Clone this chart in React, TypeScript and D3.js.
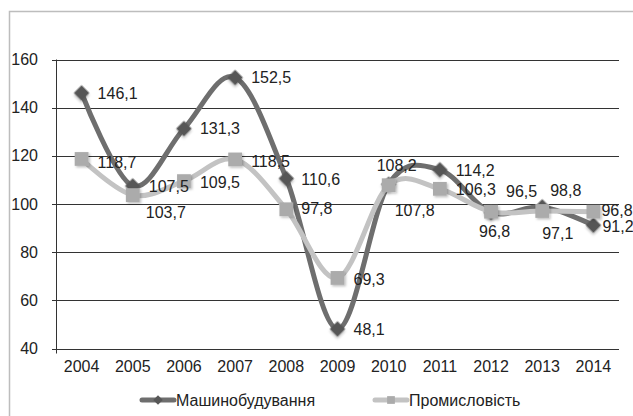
import React, { useEffect, useRef } from "react";
import * as d3 from "d3";

const years = ["2004", "2005", "2006", "2007", "2008", "2009", "2010", "2011", "2012", "2013", "2014"];
const mashValues = [146.1, 107.5, 131.3, 152.5, 110.6, 48.1, 108.2, 114.2, 96.5, 98.8, 91.2];
const promValues = [118.7, 103.7, 109.5, 118.5, 97.8, 69.3, 107.8, 106.3, 96.8, 97.1, 96.8];
const yTicks = [40, 60, 80, 100, 120, 140, 160];
const seriesNames = ["Машинобудування", "Промисловість"];

// label placement per point, relative to the marker
const mashLabelPos = [[16, 0], [16, 0], [16, 0], [16, 0], [15, 1], [16, 0], [-12, -19], [16, 1], [15, -21], [8, -16], [9, 1]];
const promLabelPos = [[16, 3], [13, 17], [16, 1], [16, 2], [15, -1], [16, 1], [6, 25], [16, 1], [-12, 20], [0, 22], [8, -1]];

const App = () => {
  const ref = useRef<SVGSVGElement | null>(null);

  useEffect(() => {
    const width = 633;
    const height = 416;
    const margin = { top: 59.5, right: 14, bottom: 67.5, left: 56 };
    const font = "'Liberation Sans', Arial, sans-serif";

    const svg = d3.select(ref.current);
    svg.selectAll("*").remove();

    const defs = svg.append("defs");
    const f = defs.append("filter").attr("id", "sh").attr("x", "-50%").attr("y", "-50%").attr("width", "200%").attr("height", "200%");
    f.append("feDropShadow").attr("dx", 1.5).attr("dy", 1.5).attr("stdDeviation", 1).attr("flood-color", "#000").attr("flood-opacity", 0.25);

    // outer frame
    svg.append("rect")
      .attr("x", 9.5).attr("y", 11.5)
      .attr("width", 640).attr("height", 420)
      .attr("fill", "#fff").attr("stroke", "#bdbdbd").attr("stroke-width", 1.5);

    const x = d3.scalePoint<string>()
      .domain(years)
      .range([margin.left, width - margin.right])
      .padding(0.5);

    const y = d3.scaleLinear()
      .domain([40, 160])
      .range([height - margin.bottom, margin.top]);

    // gridlines
    svg.append("g")
      .selectAll("line")
      .data(yTicks)
      .join("line")
      .attr("x1", margin.left - 4)
      .attr("x2", width - margin.right)
      .attr("y1", d => Math.round(y(d)) + 0.5)
      .attr("y2", d => Math.round(y(d)) + 0.5)
      .attr("stroke", "#333")
      .attr("stroke-width", 1);

    // y axis line + bottom tick
    svg.append("line")
      .attr("x1", margin.left + 0.5).attr("x2", margin.left + 0.5)
      .attr("y1", y(160)).attr("y2", y(40) + 5)
      .attr("stroke", "#333");

    svg.append("g")
      .selectAll("text")
      .data(yTicks)
      .join("text")
      .attr("x", 38)
      .attr("y", d => y(d))
      .attr("dy", "0.35em")
      .attr("text-anchor", "end")
      .attr("font-family", font)
      .attr("font-size", 16)
      .attr("fill", "#222")
      .text(d => d);

    svg.append("g")
      .selectAll("text")
      .data(years)
      .join("text")
      .attr("x", d => x(d)!)
      .attr("y", y(40) + 18)
      .attr("dy", "0.35em")
      .attr("text-anchor", "middle")
      .attr("font-family", font)
      .attr("font-size", 16)
      .attr("fill", "#222")
      .text(d => d);

    const line = d3.line<number>()
      .x((d, i) => x(years[i])!)
      .y(d => y(d))
      .curve(d3.curveCatmullRom.alpha(0));

    const series = [
      { name: seriesNames[0], values: mashValues, line: "#6e6e6e", marker: "#575757", rot: 45, size: 120, legendSize: 45, labels: mashLabelPos },
      { name: seriesNames[1], values: promValues, line: "#c3c3c3", marker: "#ababab", rot: 0, size: 190, legendSize: 60, labels: promLabelPos },
    ];

    series.forEach(s => {
      svg.append("path")
        .datum(s.values)
        .attr("fill", "none")
        .attr("stroke", s.line)
        .attr("stroke-width", 5)
        .attr("stroke-linecap", "round")
        .attr("d", line);

      svg.append("g")
        .selectAll("path")
        .data(s.values)
        .join("path")
        .attr("transform", (d, i) => `translate(${x(years[i])},${y(d)}) rotate(${s.rot})`)
        .attr("d", d3.symbol().type(d3.symbolSquare).size(s.size))
        .attr("fill", s.marker)
        .attr("filter", "url(#sh)");
    });

    series.forEach(s => {
      svg.append("g")
        .selectAll("text")
        .data(s.values)
        .join("text")
        .attr("x", (d, i) => x(years[i])! + s.labels[i][0])
        .attr("y", (d, i) => y(d) + s.labels[i][1])
        .attr("dy", "0.35em")
        .attr("font-family", font)
        .attr("font-size", 16)
        .attr("fill", "#222")
        .text(d => d3.format(".1f")(d).replace(".", ","));
    });

    // legend
    const legendY = 400;
    const legendX = [142, 375];
    series.forEach((s, i) => {
      const g = svg.append("g").attr("transform", `translate(${legendX[i]},${legendY})`);
      g.append("line").attr("x1", 0).attr("x2", 32).attr("y1", 0).attr("y2", 0)
        .attr("stroke", s.line).attr("stroke-width", 5).attr("stroke-linecap", "round");
      g.append("path")
        .attr("transform", `translate(16,0) rotate(${s.rot})`)
        .attr("d", d3.symbol().type(d3.symbolSquare).size(s.legendSize))
        .attr("fill", s.marker);
      g.append("text")
        .attr("x", 34).attr("y", 0).attr("dy", "0.35em")
        .attr("font-family", font).attr("font-size", 16).attr("fill", "#222")
        .text(s.name);
    });
  }, []);

  return (
    <svg ref={ref} width={633} height={416}
      style={{ position: "absolute", left: 0, top: 0, background: "#fff" }} />
  );
};

export default App;
